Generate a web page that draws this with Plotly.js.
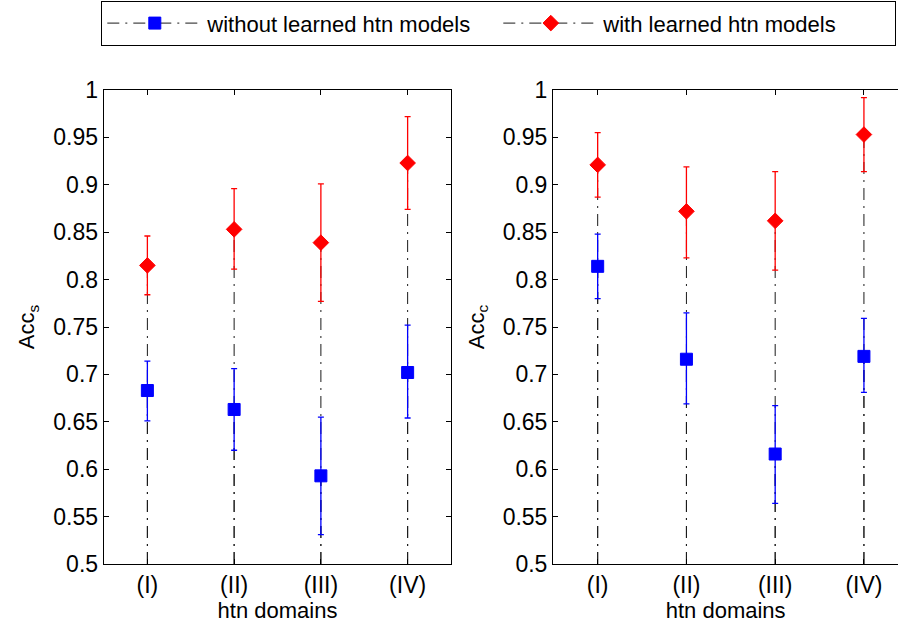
<!DOCTYPE html>
<html>
<head>
<meta charset="utf-8">
<script src="https://cdn.plot.ly/plotly-3.0.1.min.js"></script>
<style>html,body{margin:0;padding:0;background:#fff;}#chart{width:898px;height:628px;}</style>
</head>
<body>
<div id="chart"></div>
<script>
// htn domains on the x axis
const domains = ['(I)', '(II)', '(III)', '(IV)'];
const yTicks = [0.5, 0.55, 0.6, 0.65, 0.7, 0.75, 0.8, 0.85, 0.9, 0.95, 1];
const yTickText = ['0.5', '0.55', '0.6', '0.65', '0.7', '0.75', '0.8', '0.85', '0.9', '0.95', '1'];

// Acc_s: mean and error-bar bounds
const accsWithout = [0.683, 0.663, 0.593, 0.702];
const accsWithoutHi = [0.714, 0.706, 0.655, 0.752];
const accsWithoutLo = [0.651, 0.620, 0.531, 0.654];
const accsWith = [0.815, 0.853, 0.839, 0.923];
const accsWithHi = [0.846, 0.896, 0.901, 0.972];
const accsWithLo = [0.784, 0.811, 0.777, 0.874];

// Acc_c: mean and error-bar bounds
const acccWithout = [0.814, 0.716, 0.616, 0.719];
const acccWithoutHi = [0.848, 0.765, 0.667, 0.759];
const acccWithoutLo = [0.780, 0.669, 0.564, 0.681];
const acccWith = [0.921, 0.872, 0.862, 0.953];
const acccWithHi = [0.955, 0.919, 0.914, 0.992];
const acccWithLo = [0.887, 0.823, 0.810, 0.914];

const BASE = 0.5;
const FONT = 'Liberation Sans, Arial, Helvetica, sans-serif';
const BLUE = '#0000ff';
const RED = '#ff0000';
const STEM = '#1a1a1a';
const STEM_DASH = '12px,6px,2px,6px';

const xs = domains.map((d, i) => i + 1);

// dash-dot stems from the baseline up to each value
function stemTrace(vals, xa, ya) {
  const x = [], y = [];
  vals.forEach((v, i) => { x.push(xs[i], xs[i], null); y.push(BASE, v, null); });
  return {
    x, y, xaxis: xa, yaxis: ya, type: 'scatter', mode: 'lines',
    line: {color: STEM, width: 1, dash: STEM_DASH},
    showlegend: false, hoverinfo: 'skip'
  };
}

// markers with asymmetric error bars; points are kept apart by nulls so no
// connecting line is drawn, while the legend still shows the dash-dot line
function markTrace(vals, hi, lo, xa, ya, name, color, symbol, size, legend) {
  const x = [], y = [], up = [], dn = [];
  vals.forEach((v, i) => {
    x.push(xs[i], null); y.push(v, null);
    up.push(hi[i] - v, null); dn.push(v - lo[i], null);
  });
  return {
    x, y, xaxis: xa, yaxis: ya, type: 'scatter', mode: 'lines+markers',
    name, showlegend: legend, legendgroup: name, connectgaps: false,
    line: {color: STEM, width: 1, dash: STEM_DASH},
    marker: {symbol, size, color, line: {color, width: 1}},
    error_y: {type: 'data', symmetric: false, array: up, arrayminus: dn,
              color, thickness: 1.3, width: 3}
  };
}

const data = [
  stemTrace(accsWithout, 'x', 'y'),
  stemTrace(accsWith, 'x', 'y'),
  stemTrace(acccWithout, 'x2', 'y2'),
  stemTrace(acccWith, 'x2', 'y2'),
  markTrace(accsWithout, accsWithoutHi, accsWithoutLo, 'x', 'y', 'without learned htn models', BLUE, 'square', 12, true),
  markTrace(accsWith, accsWithHi, accsWithLo, 'x', 'y', 'with learned htn models', RED, 'diamond', 12, true),
  markTrace(acccWithout, acccWithoutHi, acccWithoutLo, 'x2', 'y2', 'without learned htn models', BLUE, 'square', 12, false),
  markTrace(acccWith, acccWithHi, acccWithLo, 'x2', 'y2', 'with learned htn models', RED, 'diamond', 12, false)
];

const W = 898, ML = 104, MR = 0;
const pw = W - ML - MR;
const tickFont = {family: FONT, size: 23, color: '#000'};
const titleFont = {family: FONT, size: 22, color: '#000'};

function xAxis(domain, range, mirror) {
  return {
    domain, range, tickvals: xs, ticktext: domains,
    ticks: 'inside', ticklen: 5, tickcolor: '#000', tickwidth: 1,
    showline: true, linecolor: '#000', linewidth: 1.3, mirror,
    showgrid: false, zeroline: false, tickfont: tickFont,
    title: {text: 'htn domains', font: titleFont, standoff: 2}
  };
}
function yAxis(anchor, title, mirror) {
  return {
    anchor, range: [0.5, 1], tickvals: yTicks, ticktext: yTickText,
    ticks: 'inside', ticklen: 5, tickcolor: '#000', tickwidth: 1,
    showline: true, linecolor: '#000', linewidth: 1.3, mirror,
    showgrid: false, zeroline: false, tickfont: tickFont,
    title: {text: title, font: titleFont, standoff: 12}
  };
}

const layout = {
  width: W, height: 628,
  margin: {l: ML, r: MR, t: 90, b: 64},
  paper_bgcolor: '#fff', plot_bgcolor: '#fff',
  font: {family: FONT, color: '#000'},
  xaxis: xAxis([0, (451 - ML) / pw], [0.5, 4.5], 'ticks'),
  yaxis: yAxis('x', 'Acc<sub>s</sub>', 'ticks'),
  xaxis2: xAxis([(553.3 - ML) / pw, 1], [0.5, 0.5 + (W - 553.3) / 88.75], 'ticks'),
  yaxis2: yAxis('x2', 'Acc<sub>c</sub>', false),
  showlegend: true,
  legend: {
    orientation: 'h', xref: 'container', x: 101 / W, xanchor: 'left',
    yref: 'container', y: 1 - 1 / 628, yanchor: 'top',
    bordercolor: '#000', borderwidth: 1.3, bgcolor: '#fff',
    font: {family: FONT, size: 22, color: '#000'},
    entrywidth: 286, itemwidth: 95, traceorder: 'normal'
  }
};

Plotly.newPlot('chart', data, layout, {displayModeBar: false, staticPlot: true});
</script>
</body>
</html>
